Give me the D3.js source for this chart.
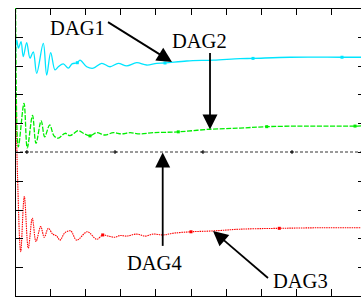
<!DOCTYPE html>
<html><head><meta charset="utf-8">
<script src="https://cdn.jsdelivr.net/npm/d3@7"></script>
<style>html,body{margin:0;padding:0;background:#fff;}svg{display:block;}
.lbl{font-family:"Liberation Serif","DejaVu Serif",serif;}</style>
</head><body>
<svg id="c" width="361" height="298"></svg>
<script>
// ---- data (time t, value v) ----
const dag1T = [0,0.048,0.10,0.171,0.236,0.333,0.427,0.521,0.618,0.806,0.903,1.017,1.140,1.234,1.376,1.519,1.624,1.775,1.852,2.043,2.231,2.470,2.707,2.943,3.182,3.467,3.752,4.037,4.274,4.892,5.650,6.410,6.781,7.835,9.316,10];
const dag1V = [2.5,3.89,3.61,3.83,3.31,3.80,3.26,3.48,2.73,3.77,2.67,3.45,2.85,2.96,3.06,2.91,3.06,3.10,3.19,2.96,2.91,3.08,2.96,3.08,2.99,3.10,3.02,3.08,3.09,3.16,3.19,3.24,3.25,3.29,3.29,3.29];
const dag1MarkT = [1.775,4.274,6.781,9.316];
const dag1MarkV = [3.10,3.09,3.25,3.29];

const dag2T = [0,0.011,0.094,0.256,0.350,0.499,0.598,0.746,0.846,0.989,1.111,1.234,1.425,1.567,1.803,1.946,2.137,2.328,2.564,2.801,3.040,3.276,3.561,3.940,4.652,5.556,6.410,7.171,8.311,9.687,10];
const dag2V = [0,5.21,0.18,1.69,0.14,1.27,0.30,1.08,0.53,0.94,0.56,0.48,0.65,0.57,0.74,0.65,0.56,0.67,0.59,0.67,0.63,0.67,0.63,0.67,0.70,0.79,0.83,0.88,0.90,0.90,0.91];
const dag2MarkT = [2.137,4.652,7.171,9.687];
const dag2MarkV = [0.56,0.70,0.88,0.90];

const dag3T = [0,0.017,0.071,0.162,0.265,0.379,0.493,0.598,0.732,0.835,0.949,1.074,1.188,1.282,1.425,1.587,1.758,2.060,2.328,2.499,2.658,2.849,2.991,3.182,3.467,3.704,3.940,4.225,4.510,5.014,5.650,6.410,7.530,8.775,10];
const dag3V = [0,2.08,-0.80,-3.46,-1.55,-3.34,-2.30,-3.11,-2.59,-2.96,-2.65,-2.85,-2.92,-3.06,-2.80,-2.74,-3.06,-2.77,-3.03,-2.88,-2.92,-2.96,-2.90,-2.92,-2.85,-2.92,-2.85,-2.88,-2.82,-2.77,-2.74,-2.68,-2.65,-2.63,-2.63];
const dag3MarkT = [2.499,5.014,7.530];
const dag3MarkV = [-2.88,-2.77,-2.65];

const dag4T = [0,10];
const dag4V = [0,0];
const dag4MarkT = [0.34,2.849,5.356,7.892];
const dag4MarkV = [0,0,0,0];

const xTicks = [1,2,3,4,5,6,7,8,9];
const yTicks = [-4,-3,-2,-1,0,1,2,3,4];

// annotations (data units)
const labels = ["DAG1","DAG2","DAG4","DAG3"];
const labelT = [1.0,4.473,3.19,7.35];
const labelV = [4.05,3.61,-4.10,-4.72];
const arrowFromT = [2.65,5.556,4.208,7.208];
const arrowFromV = [4.51,3.44,-3.26,-4.375];
const arrowToT = [4.473,5.556,4.208,5.641];
const arrowToV = [3.125,0.78,-0.02,-2.74];

// ---- drawing ----
const svg = d3.select("#c");
const L=15, R=366, T=8, B=296;
const x = d3.scaleLinear().domain([0,10]).range([L,R]);
const y = d3.scaleLinear().domain([-5,5]).range([B,T]);

svg.append("defs").append("clipPath").attr("id","clip")
  .append("rect").attr("x",L).attr("y",T).attr("width",R-L).attr("height",B-T);

const plot = svg.append("g").attr("clip-path","url(#clip)");
const lineC = d3.line().x(d=>x(d[0])).y(d=>y(d[1])).curve(d3.curveCatmullRom.alpha(0.5));

function series(T_, V_, color, width, dash, mT, mV, markShape){
  const pts = T_.map((t,i)=>[t,V_[i]]);
  plot.append("path").attr("d", lineC(pts)).attr("fill","none")
    .attr("stroke",color).attr("stroke-width",width)
    .attr("stroke-dasharray",dash).attr("stroke-linejoin","round");
  const m = mT.map((t,i)=>[t,mV[i]]);
  if(markShape==="plus"){
    plot.selectAll(null).data(m).enter().append("path")
      .attr("d",d=>`M${x(d[0])-2},${y(d[1])}h4M${x(d[0])},${y(d[1])-2}v4`)
      .attr("stroke",color).attr("stroke-width",1);
  } else {
    plot.selectAll(null).data(m).enter().append("rect")
      .attr("x",d=>x(d[0])-1.5).attr("y",d=>y(d[1])-1.5)
      .attr("width",3).attr("height",3).attr("fill",color);
  }
}
series(dag4T,dag4V,"#000",0.8,"3,2",dag4MarkT,dag4MarkV,"plus");
series(dag3T,dag3V,"#ff0000",1.1,"1.5,0.8",dag3MarkT,dag3MarkV,"sq");
series(dag2T,dag2V,"#00ee00",1.3,"5,1.5",dag2MarkT,dag2MarkV,"sq");
series(dag1T,dag1V,"#00e5ff",1.3,null,dag1MarkT,dag1MarkV,"sq");

// axes
const ax = svg.append("g").attr("shape-rendering","crispEdges");
function styleAxis(g){ g.selectAll("text").remove(); g.selectAll("line,path").attr("stroke","#000").attr("stroke-width",1); }
ax.append("g").attr("transform",`translate(0,${T})`)
  .call(d3.axisTop(x).tickValues(xTicks).tickSize(-7).tickSizeOuter(0)).call(styleAxis);
ax.append("g").attr("transform",`translate(0,${B})`)
  .call(d3.axisBottom(x).tickValues(xTicks).tickSize(-7).tickSizeOuter(0)).call(styleAxis);
ax.append("g").attr("transform",`translate(${L},0)`)
  .call(d3.axisLeft(y).tickValues(yTicks).tickSize(-8).tickSizeOuter(0)).call(styleAxis);
ax.append("g").attr("transform",`translate(${R},0)`)
  .call(d3.axisRight(y).tickValues(yTicks).tickSize(-8).tickSizeOuter(0)).call(styleAxis);

// annotations
const ann = svg.append("g");
labels.forEach((s,i)=>{
  ann.append("text").attr("class","lbl").attr("x",x(labelT[i])).attr("y",y(labelV[i]))
    .attr("font-size",20.5).attr("fill","#000").text(s);
  const x0=x(arrowFromT[i]), y0=y(arrowFromV[i]), x1=x(arrowToT[i]), y1=y(arrowToV[i]);
  const dx=x1-x0, dy=y1-y0, len=Math.hypot(dx,dy), ux=dx/len, uy=dy/len;
  const hl=15, hw=7.5;
  const bx=x1-ux*hl, by=y1-uy*hl;
  ann.append("line").attr("x1",x0).attr("y1",y0).attr("x2",bx+ux*2).attr("y2",by+uy*2)
    .attr("stroke","#000").attr("stroke-width",1.8);
  ann.append("polygon").attr("points",
    `${x1},${y1} ${bx-uy*hw},${by+ux*hw} ${bx+uy*hw},${by-ux*hw}`).attr("fill","#000");
});
</script>
</body></html>
